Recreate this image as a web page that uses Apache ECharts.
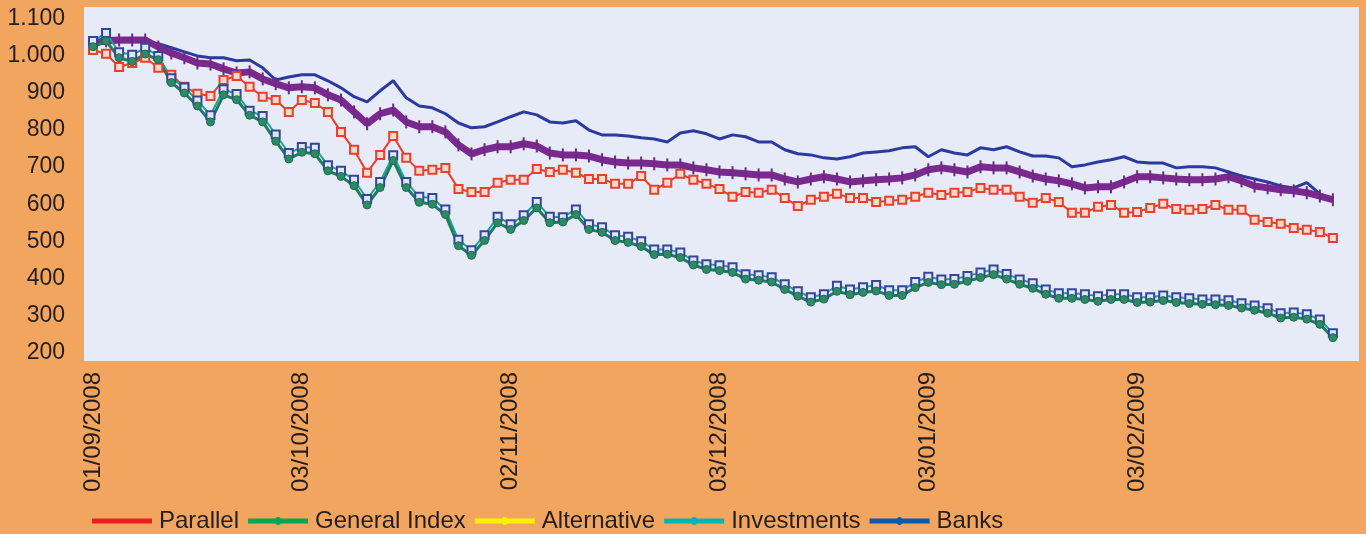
<!DOCTYPE html>
<html>
<head>
<meta charset="utf-8">
<script src="https://cdn.jsdelivr.net/npm/echarts@6/dist/echarts.min.js"></script>
<style>
  html, body { margin: 0; padding: 0; background: #f2a55f; }
  #main { width: 1366px; height: 534px; }
</style>
</head>
<body>
<div id="main"></div>
<script>
// tick labels on the x axis and the point index they sit on
var tickLabels = ['01/09/2008', '03/10/2008', '02/11/2008', '03/12/2008', '03/01/2009', '03/02/2009']
var tickIndex = [0, 16, 32, 48, 64, 80]
var yTicks = [200, 300, 400, 500, 600, 700, 800, 900, 1000, 1100]

// series values, one per trading point
var parallel = [1016, 1006, 970, 981, 995, 968, 949, 917, 898, 892, 935, 946, 917, 890, 881, 849, 881, 873, 849, 795,
  747, 685, 733, 784, 725, 690, 693, 698, 641, 633, 633, 658, 666, 666, 695, 687, 693, 685, 668, 668,
  655, 655, 676, 639, 658, 682, 666, 655, 641, 620, 633, 631, 639, 617, 595, 612, 620, 628, 617, 617,
  606, 609, 612, 620, 631, 625, 631, 633, 644, 639, 639, 620, 604, 617, 606, 577, 577, 593, 598, 577,
  579, 590, 601, 587, 585, 587, 598, 585, 585, 558, 552, 547, 536, 531, 525, 509]
var generalIndex = [1025, 1040, 995, 985, 1005, 990, 928, 900, 865, 822, 895, 882, 840, 822, 770, 722, 740, 736, 690, 675,
  650, 598, 645, 718, 645, 605, 600, 572, 488, 462, 502, 550, 532, 556, 590, 550, 552, 572, 532, 524,
  502, 497, 486, 464, 465, 456, 436, 424, 421, 416, 398, 395, 390, 370, 352, 336, 344, 365, 356, 362,
  366, 354, 354, 375, 389, 383, 384, 392, 402, 410, 398, 384, 373, 357, 346, 346, 343, 338, 343, 343,
  335, 336, 340, 335, 332, 330, 329, 327, 320, 314, 306, 293, 295, 290, 276, 240]
var alternative = [1035, 1041, 1043, 1043, 1043, 1024, 1008, 995, 981, 978, 965, 954, 957, 938, 925, 914, 917, 914, 895, 881,
  849, 817, 844, 854, 822, 809, 809, 795, 760, 736, 747, 755, 755, 763, 757, 738, 733, 733, 730, 720,
  714, 711, 711, 709, 706, 706, 698, 693, 687, 685, 682, 679, 679, 668, 660, 668, 674, 668, 660, 663,
  666, 668, 671, 679, 693, 698, 693, 687, 701, 698, 698, 687, 676, 668, 663, 655, 644, 647, 647, 660,
  674, 674, 671, 668, 666, 666, 668, 674, 663, 649, 644, 639, 636, 631, 622, 612]
var investments = [1040, 1062, 1010, 1003, 1022, 1000, 940, 915, 880, 840, 910, 897, 852, 838, 788, 738, 754, 752, 705, 690,
  666, 614, 660, 732, 660, 620, 617, 586, 504, 476, 516, 566, 546, 570, 606, 566, 565, 586, 546, 538,
  516, 512, 500, 478, 478, 470, 448, 438, 435, 430, 411, 408, 403, 384, 365, 349, 357, 380, 370, 376,
  382, 368, 368, 390, 404, 397, 398, 406, 416, 424, 412, 397, 387, 370, 360, 360, 357, 352, 357, 357,
  349, 349, 354, 349, 346, 343, 343, 341, 333, 327, 319, 306, 308, 303, 289, 252]
var banks = [1033, 1035, 1038, 1038, 1038, 1033, 1022, 1011, 1000, 995, 995, 987, 989, 968, 935, 943, 949, 949, 933, 914,
  890, 876, 906, 933, 887, 865, 860, 844, 819, 806, 809, 822, 836, 849, 841, 822, 819, 825, 800, 787,
  787, 784, 779, 776, 768, 792, 798, 790, 776, 787, 782, 768, 768, 747, 736, 733, 725, 722, 728, 738,
  741, 744, 752, 755, 728, 747, 738, 733, 752, 747, 755, 741, 730, 730, 725, 701, 706, 714, 720, 728,
  714, 711, 711, 698, 701, 701, 698, 687, 676, 668, 660, 649, 644, 658, 628, 612]

function toPoints (arr) {
  return arr.map(function (v, i) { return [i, v] })
}

// legend keys: a thick bar, most of them with a small dot in the middle
var barIcon = 'path://M0,1.5H60V6.5H0Z'
var dotIcon = 'path://M0,1.5H60V6.5H0Z M27,4a3,4 0 1,1 6,0a3,4 0 1,1 -6,0Z'

var myChart = echarts.init(document.getElementById('main'))
var option = {
  backgroundColor: '#f2a55f',
  animation: false,
  textStyle: { fontFamily: 'Liberation Sans, Arial, sans-serif' },
  grid: {
    left: 84,
    right: 7,
    top: 7,
    bottom: 173,
    show: true,
    backgroundColor: '#e6ebf7',
    borderWidth: 0
  },
  legend: {
    left: 92,
    top: 509,
    padding: 0,
    itemWidth: 60,
    itemHeight: 8,
    itemGap: 9,
    symbolKeepAspect: true,
    textStyle: { color: '#231f20', fontSize: 24, padding: [0, 0, 0, 2] },
    data: [
      { name: 'Parallel', icon: barIcon, itemStyle: { color: '#ed1c24', borderWidth: 0 } },
      { name: 'General Index', icon: dotIcon, itemStyle: { color: '#00a651', borderWidth: 0 } },
      { name: 'Alternative', icon: dotIcon, itemStyle: { color: '#fff200', borderWidth: 0 } },
      { name: 'Investments', icon: dotIcon, itemStyle: { color: '#00b4b4', borderWidth: 0 } },
      { name: 'Banks', icon: dotIcon, itemStyle: { color: '#0a5bb0', borderWidth: 0 } }
    ]
  },
  xAxis: {
    type: 'value',
    min: -0.69,
    max: 97.0,
    axisLine: { show: false },
    axisTick: { show: false },
    splitLine: { show: false },
    axisLabel: {
      customValues: tickIndex,
      rotate: 90,
      margin: 11,
      fontSize: 24,
      color: '#231f20',
      formatter: function (value) {
        var k = tickIndex.indexOf(value)
        return k >= 0 ? tickLabels[k] : ''
      }
    }
  },
  yAxis: {
    type: 'value',
    min: 177,
    max: 1132,
    axisLine: { show: false },
    axisTick: { show: false },
    splitLine: { show: false },
    axisLabel: {
      customValues: yTicks,
      margin: 19,
      fontSize: 23,
      color: '#231f20',
      formatter: function (value) {
        if (value >= 1000) {
          var s = String(value)
          return s.slice(0, s.length - 3) + '.' + s.slice(-3)
        }
        return String(value)
      }
    }
  },
  series: [
    {
      name: 'Banks',
      type: 'line',
      data: toPoints(banks),
      showSymbol: false,
      color: '#2b3a9c',
      lineStyle: { width: 3, color: '#2b3a9c' }
    },
    {
      name: 'Alternative',
      type: 'line',
      data: toPoints(alternative),
      showAllSymbol: true,
      symbol: 'rect',
      symbolSize: [2, 13],
      color: '#7a2a8e',
      itemStyle: { color: '#6e2a80' },
      lineStyle: { width: 7, color: '#7a2a8e' }
    },
    {
      name: 'Parallel',
      type: 'line',
      data: toPoints(parallel),
      showAllSymbol: true,
      symbol: 'rect',
      symbolSize: 8,
      color: '#e8402a',
      itemStyle: { color: '#fbd9cf', borderColor: '#e8402a', borderWidth: 2 },
      lineStyle: { width: 2, color: '#e8402a' }
    },
    {
      name: 'Investments',
      type: 'line',
      data: toPoints(investments),
      showAllSymbol: true,
      symbol: 'rect',
      symbolSize: 8,
      color: '#22a0a0',
      itemStyle: { color: '#dfe6f4', borderColor: '#34469c', borderWidth: 2 },
      lineStyle: { width: 2, color: '#22a0a0' }
    },
    {
      name: 'General Index',
      type: 'line',
      data: toPoints(generalIndex),
      showAllSymbol: true,
      symbol: 'circle',
      symbolSize: 8,
      color: '#1e7d5a',
      itemStyle: { color: '#2d8a66', borderColor: '#1e6e50', borderWidth: 1 },
      lineStyle: { width: 3, color: '#1e7d5a' }
    }
  ]
}
myChart.setOption(option)
</script>
</body>
</html>
